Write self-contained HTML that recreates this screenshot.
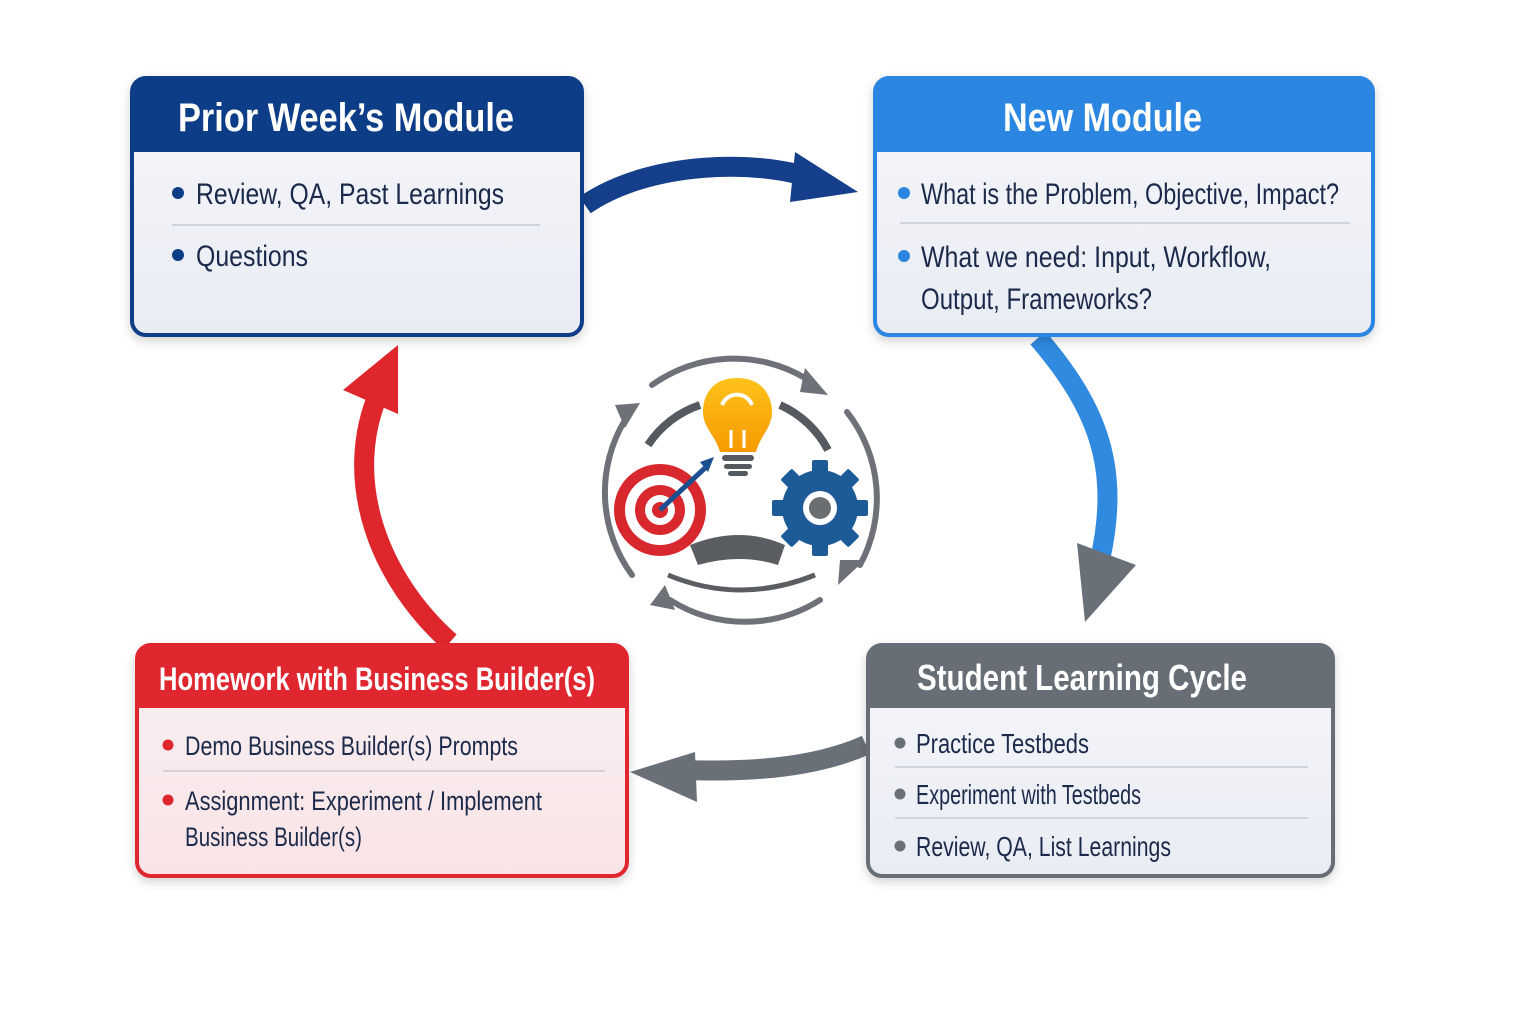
<!DOCTYPE html>
<html><head><meta charset="utf-8"><style>
html,body{margin:0;padding:0;background:#fff;}
svg text{font-family:"Liberation Sans",sans-serif;}
</style></head><body>
<svg width="1536" height="1024" viewBox="0 0 1536 1024" xmlns="http://www.w3.org/2000/svg">
<defs>
<linearGradient id="bodyg" x1="0" y1="0" x2="0" y2="1"><stop offset="0" stop-color="#f6f7fb"/><stop offset="1" stop-color="#e9ecf3"/></linearGradient>
<linearGradient id="redg" x1="0" y1="0" x2="0" y2="1"><stop offset="0" stop-color="#f8f1f3"/><stop offset="1" stop-color="#f9e3e6"/></linearGradient>
<linearGradient id="bulb" x1="0" y1="0" x2="0" y2="1"><stop offset="0" stop-color="#ffc21a"/><stop offset="1" stop-color="#f59a00"/></linearGradient>
<filter id="sh" x="-10%" y="-10%" width="120%" height="130%"><feDropShadow dx="0" dy="4" stdDeviation="5" flood-color="#000" flood-opacity="0.18"/></filter>
</defs>

<!-- Arrows -->
<path d="M585,205 C650,160 760,160 810,178" fill="none" stroke="#153f8a" stroke-width="20"/>
<polygon points="795,152 858,192 790,202" fill="#153f8a"/>
<path d="M1038,338 C1100,410 1120,470 1100,560" fill="none" stroke="#2f8ae0" stroke-width="20"/>
<polygon points="1077,543 1136,565 1085,622" fill="#6a7078"/>
<path d="M866,745 C810,770 740,772 680,770" fill="none" stroke="#6a7078" stroke-width="20"/>
<polygon points="695,752 630,772 697,802" fill="#6a7078"/>
<path d="M450,642 C380,580 340,480 380,390" fill="none" stroke="#e0262d" stroke-width="20"/>
<polygon points="343,390 398,345 398,414" fill="#e0262d"/>

<!-- Box 1 -->
<g filter="url(#sh)">
<rect x="132" y="78" width="450" height="257" rx="14" fill="url(#bodyg)" stroke="#0e3d87" stroke-width="4"/>
<path d="M146,78 H568 A14,14 0 0 1 582,92 V152 H132 V92 A14,14 0 0 1 146,78Z" fill="#0e3d87"/>
</g>
<text x="178" y="131" fill="#fff" font-size="40" font-weight="bold" textLength="336" lengthAdjust="spacingAndGlyphs">Prior Week’s Module</text>
<circle cx="178" cy="193" r="6" fill="#0e3d87"/>
<text x="196" y="204" fill="#1b2a4a" font-size="30" textLength="308" lengthAdjust="spacingAndGlyphs">Review, QA, Past Learnings</text>
<line x1="172" y1="225" x2="540" y2="225" stroke="#d0d4dc" stroke-width="2"/>
<circle cx="178" cy="255" r="6" fill="#0e3d87"/>
<text x="196" y="266" fill="#1b2a4a" font-size="30" textLength="112" lengthAdjust="spacingAndGlyphs">Questions</text>

<!-- Box 2 -->
<g filter="url(#sh)">
<rect x="875" y="78" width="498" height="257" rx="14" fill="url(#bodyg)" stroke="#2a86e0" stroke-width="4"/>
<path d="M889,78 H1359 A14,14 0 0 1 1373,92 V152 H875 V92 A14,14 0 0 1 889,78Z" fill="#2a86e0"/>
</g>
<text x="1003" y="131" fill="#fff" font-size="40" font-weight="bold" textLength="199" lengthAdjust="spacingAndGlyphs">New Module</text>
<circle cx="904" cy="193" r="6" fill="#2a86e0"/>
<text x="921" y="204" fill="#1b2a4a" font-size="30" textLength="418" lengthAdjust="spacingAndGlyphs">What is the Problem, Objective, Impact?</text>
<line x1="900" y1="223" x2="1350" y2="223" stroke="#d0d4dc" stroke-width="2"/>
<circle cx="904" cy="256" r="6" fill="#2a86e0"/>
<text x="921" y="267" fill="#1b2a4a" font-size="30" textLength="350" lengthAdjust="spacingAndGlyphs">What we need: Input, Workflow,</text>
<text x="921" y="309" fill="#1b2a4a" font-size="30" textLength="231" lengthAdjust="spacingAndGlyphs">Output, Frameworks?</text>

<!-- Box 3 -->
<g filter="url(#sh)">
<rect x="868" y="645" width="465" height="231" rx="14" fill="url(#bodyg)" stroke="#686e75" stroke-width="4"/>
<path d="M882,645 H1319 A14,14 0 0 1 1333,659 V708 H868 V659 A14,14 0 0 1 882,645Z" fill="#686e75"/>
</g>
<text x="917" y="690" fill="#fff" font-size="36" font-weight="bold" textLength="330" lengthAdjust="spacingAndGlyphs">Student Learning Cycle</text>
<circle cx="900" cy="743" r="5.5" fill="#6a7078"/>
<text x="916" y="753" fill="#1b2a4a" font-size="28" textLength="173" lengthAdjust="spacingAndGlyphs">Practice Testbeds</text>
<line x1="895" y1="767" x2="1308" y2="767" stroke="#d0d4dc" stroke-width="2"/>
<circle cx="900" cy="794" r="5.5" fill="#6a7078"/>
<text x="916" y="804" fill="#1b2a4a" font-size="28" textLength="225" lengthAdjust="spacingAndGlyphs">Experiment with Testbeds</text>
<line x1="895" y1="818" x2="1308" y2="818" stroke="#d0d4dc" stroke-width="2"/>
<circle cx="900" cy="846" r="5.5" fill="#6a7078"/>
<text x="916" y="856" fill="#1b2a4a" font-size="28" textLength="255" lengthAdjust="spacingAndGlyphs">Review, QA, List Learnings</text>

<!-- Box 4 -->
<g filter="url(#sh)">
<rect x="137" y="645" width="490" height="231" rx="14" fill="url(#redg)" stroke="#e0262d" stroke-width="4"/>
<path d="M151,645 H613 A14,14 0 0 1 627,659 V708 H137 V659 A14,14 0 0 1 151,645Z" fill="#e0262d"/>
</g>
<text x="159" y="690" fill="#fff" font-size="32" font-weight="bold" textLength="436" lengthAdjust="spacingAndGlyphs">Homework with Business Builder(s)</text>
<circle cx="168" cy="745" r="5.5" fill="#e0262d"/>
<text x="185" y="755" fill="#1b2a4a" font-size="27" textLength="333" lengthAdjust="spacingAndGlyphs">Demo Business Builder(s) Prompts</text>
<line x1="163" y1="771" x2="605" y2="771" stroke="#d8d0d4" stroke-width="2"/>
<circle cx="168" cy="800" r="5.5" fill="#e0262d"/>
<text x="185" y="810" fill="#1b2a4a" font-size="27" textLength="357" lengthAdjust="spacingAndGlyphs">Assignment: Experiment / Implement</text>
<text x="185" y="846" fill="#1b2a4a" font-size="27" textLength="177" lengthAdjust="spacingAndGlyphs">Business Builder(s)</text>

<!-- Center icon -->
<g fill="none" stroke="#6e7278" stroke-width="6" stroke-linecap="round">
<path d="M652,385 A140,140 0 0 1 805,378"/>
<path d="M847,412 A140,140 0 0 1 860,565"/>
<path d="M820,600 A140,140 0 0 1 670,600"/>
<path d="M632,575 A140,140 0 0 1 625,420"/>
</g>
<polygon points="805,368 828,395 800,392" fill="#6e7278"/>
<polygon points="865,560 838,585 840,560" fill="#6e7278"/>
<polygon points="665,585 650,605 675,610" fill="#6e7278"/>
<polygon points="615,405 640,403 625,428" fill="#6e7278"/>
<g fill="none" stroke="#555a60" stroke-width="8">
<path d="M648,445 A100,100 0 0 1 700,405"/>
<path d="M780,405 A100,100 0 0 1 828,450"/>
</g>
<path d="M690,545 Q740,525 785,545 L778,565 Q740,553 698,565Z" fill="#5a5e63"/>
<path d="M668,575 Q740,605 815,575" fill="none" stroke="#5a5e63" stroke-width="5"/>
<!-- bulb -->
<path d="M737,378 C710,378 703,398 703,412 C703,428 716,436 720,452 H756 C760,436 772,428 772,412 C772,398 764,378 737,378Z" fill="url(#bulb)"/>
<path d="M722,405 A16,16 0 0 1 752,405" fill="none" stroke="#fff" stroke-width="4"/>
<path d="M731,448 V430 M744,448 V430" stroke="#fff" stroke-width="3"/>
<rect x="722" y="455" width="32" height="6" rx="3" fill="#555a60"/>
<rect x="724" y="464" width="28" height="5" rx="2.5" fill="#555a60"/>
<rect x="728" y="471" width="20" height="5" rx="2.5" fill="#555a60"/>
<!-- target -->
<circle cx="660" cy="510" r="46" fill="#d9272e"/>
<circle cx="660" cy="510" r="35" fill="#fff"/>
<circle cx="660" cy="510" r="25" fill="#d9272e"/>
<circle cx="660" cy="510" r="15" fill="#fff"/>
<circle cx="660" cy="510" r="8" fill="#d9272e"/>
<line x1="660" y1="510" x2="705" y2="468" stroke="#1b4f8f" stroke-width="5"/>
<polygon points="700,462 714,457 708,472" fill="#1b4f8f"/>
<!-- gear -->
<g transform="translate(820,508)" fill="#1c5a98">
<circle r="38"/>
<g id="t"><rect x="-8" y="-48" width="16" height="16" rx="2"/></g>
<use href="#t" transform="rotate(45)"/><use href="#t" transform="rotate(90)"/><use href="#t" transform="rotate(135)"/>
<use href="#t" transform="rotate(180)"/><use href="#t" transform="rotate(225)"/><use href="#t" transform="rotate(270)"/><use href="#t" transform="rotate(315)"/>
<circle r="17" fill="#fff"/>
<circle r="11" fill="#6a6e73"/>
</g>
</svg>
</body></html>
